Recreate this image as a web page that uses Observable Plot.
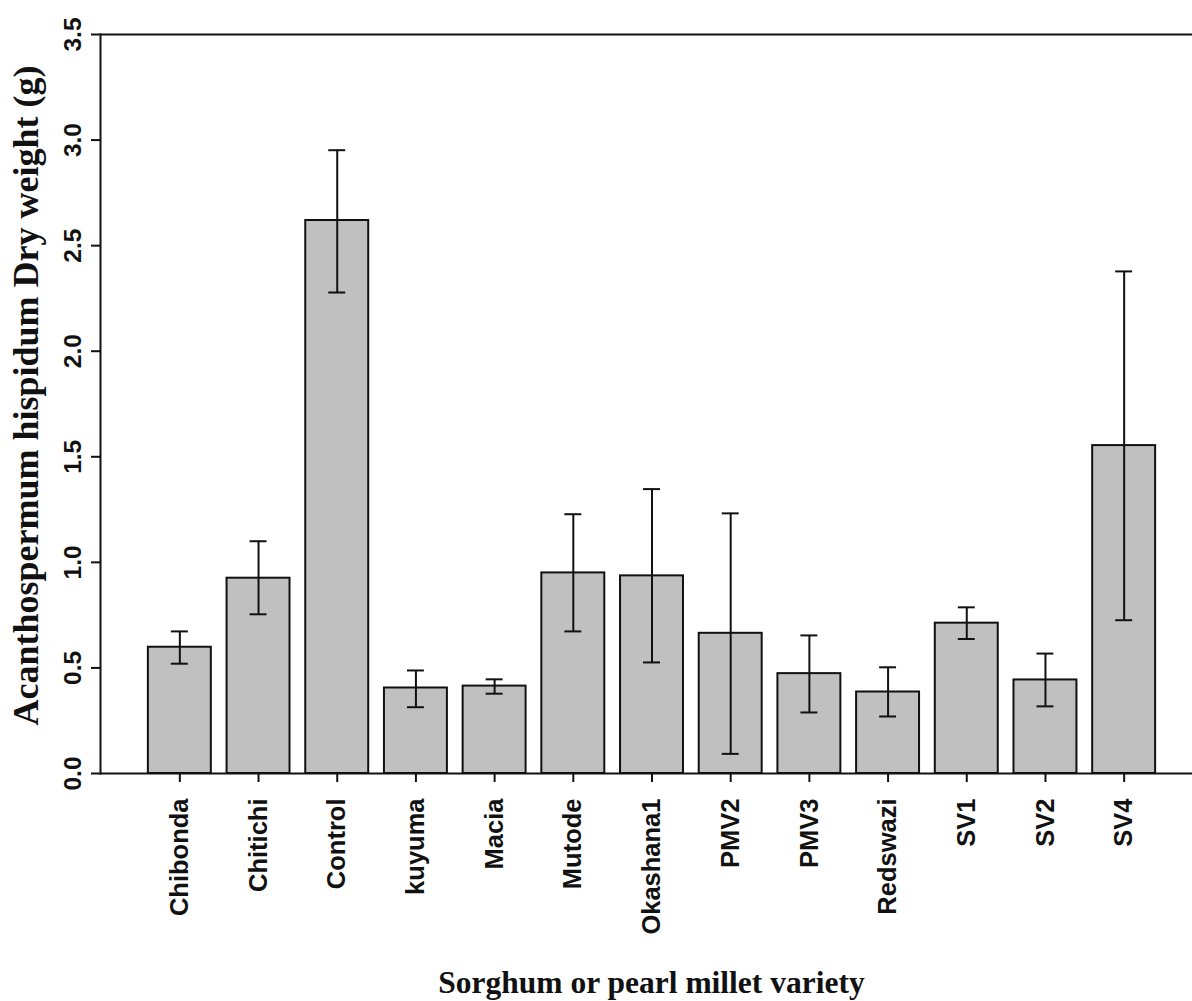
<!DOCTYPE html>
<html><head><meta charset="utf-8">
<script src="https://cdn.jsdelivr.net/npm/d3@7"></script>
<script src="https://cdn.jsdelivr.net/npm/@observablehq/plot@0.6"></script>
<style>body{margin:0;background:#fff}</style>
</head><body><div id="chart"></div>
<script>
const categories = ["Chibonda","Chitichi","Control","kuyuma","Macia","Mutode","Okashana1","PMV2","PMV3","Redswazi","SV1","SV2","SV4"];
const means   = [0.598, 0.925, 2.619, 0.405, 0.414, 0.950, 0.936, 0.664, 0.473, 0.386, 0.712, 0.443, 1.553];
const errLow  = [0.520, 0.754, 2.278, 0.314, 0.378, 0.673, 0.526, 0.093, 0.289, 0.270, 0.637, 0.318, 0.726];
const errHigh = [0.673, 1.100, 2.952, 0.488, 0.446, 1.228, 1.347, 1.232, 0.654, 0.503, 0.787, 0.568, 2.378];
const yTicks = [0, 0.5, 1.0, 1.5, 2.0, 2.5, 3.0, 3.5];
const yTitle = "Acanthospermum hispidum Dry weight (g)";
const xTitle = "Sorghum or pearl millet variety";

const data = categories.map((c, i) => ({cat: c, mean: means[i], lo: errLow[i], hi: errHigh[i]}));
const sans = "'Liberation Sans', Arial, sans-serif";
const serif = "'Liberation Serif', 'Times New Roman', serif";

const plot = Plot.plot({
  width: 1192, height: 1001,
  marginLeft: 100, marginRight: 0, marginTop: 34, marginBottom: 228,
  style: {background: "#fff", overflow: "visible", color: "#111"},
  x: {type: "band", domain: categories, range: [140, 1163], paddingInner: 0.2, paddingOuter: 0.1, round: false},
  y: {domain: [0, 3.5]},
  marks: [
    Plot.barY(data, {x: "cat", y: "mean", fill: "#c0c0c0", stroke: "#111", strokeWidth: 2}),
    Plot.ruleX(data, {x: "cat", y1: "lo", y2: "hi", stroke: "#111", strokeWidth: 2}),
    Plot.tickY(data, {x: "cat", y: "lo", insetLeft: 23, insetRight: 23, stroke: "#111", strokeWidth: 2}),
    Plot.tickY(data, {x: "cat", y: "hi", insetLeft: 23, insetRight: 23, stroke: "#111", strokeWidth: 2}),
    Plot.ruleY([0], {stroke: "#111", strokeWidth: 2}),
    Plot.ruleY([3.5], {stroke: "#111", strokeWidth: 2}),
    Plot.frame({anchor: "left", stroke: "#111", strokeWidth: 2}),
    Plot.axisX({tickSize: 9, tickFormat: () => "", label: null, strokeWidth: 2}),
    Plot.axisY({ticks: yTicks, tickSize: 9, tickFormat: () => "", label: null, strokeWidth: 2}),
    Plot.text(categories, {x: d => d, frameAnchor: "bottom", dy: 25, rotate: -90, textAnchor: "end", lineAnchor: "middle",
      fontSize: 25.5, fontWeight: "bold", fontFamily: sans, fill: "#111"}),
    Plot.text(yTicks, {y: d => d, text: d => d.toFixed(1), frameAnchor: "left", dx: -27, rotate: -90, textAnchor: "middle", lineAnchor: "middle",
      fontSize: 24.5, fontWeight: "bold", fontFamily: sans, fill: "#111"}),
    Plot.text([yTitle], {frameAnchor: "left", dx: -63, dy: -8.5, rotate: -90, textAnchor: "middle", lineAnchor: "bottom",
      fontSize: 36, fontWeight: "bold", fontFamily: serif, fill: "#111"}),
    Plot.text([xTitle], {frameAnchor: "bottom", dx: 5, dy: 219, textAnchor: "middle", lineAnchor: "bottom",
      fontSize: 31.5, fontWeight: "bold", fontFamily: serif, fill: "#111"})
  ]
});
document.getElementById("chart").appendChild(plot);
</script>
</body></html>
